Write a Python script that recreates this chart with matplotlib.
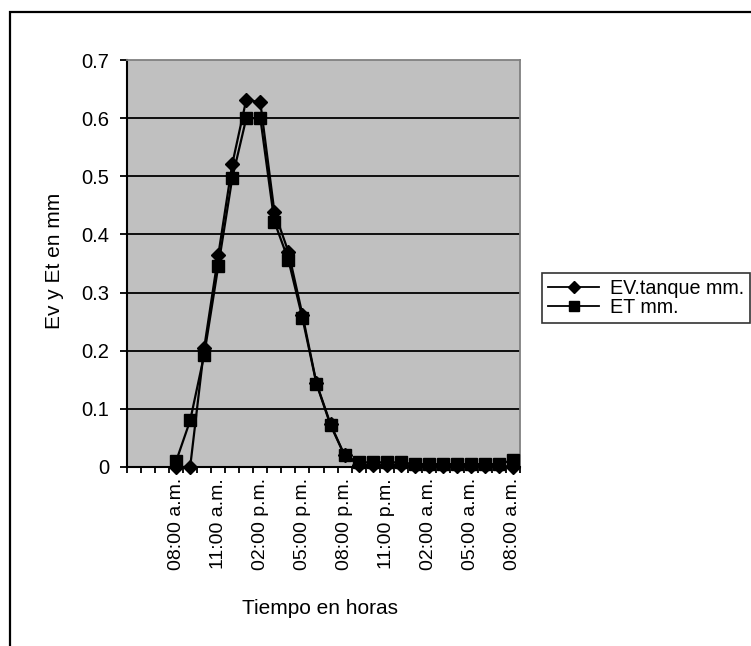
import matplotlib
matplotlib.use("Agg")
import matplotlib.pyplot as plt
from matplotlib.patches import Rectangle
from matplotlib.lines import Line2D

plt.rcParams['font.family'] = ['Liberation Sans', 'DejaVu Sans']

hours = ["08:00 a.m.", "09:00 a.m.", "10:00 a.m.", "11:00 a.m.", "12:00 p.m.",
         "01:00 p.m.", "02:00 p.m.", "03:00 p.m.", "04:00 p.m.", "05:00 p.m.",
         "06:00 p.m.", "07:00 p.m.", "08:00 p.m.", "09:00 p.m.", "10:00 p.m.",
         "11:00 p.m.", "12:00 a.m.", "01:00 a.m.", "02:00 a.m.", "03:00 a.m.",
         "04:00 a.m.", "05:00 a.m.", "06:00 a.m.", "07:00 a.m.", "08:00 a.m."]
ev_tanque = [0.0, 0.0, 0.205, 0.364, 0.521, 0.632, 0.627, 0.439, 0.370, 0.262,
             0.144, 0.074, 0.020, 0.004, 0.004, 0.004, 0.004, 0.002, 0.002, 0.002,
             0.002, 0.002, 0.002, 0.002, 0.0]
et = [0.010, 0.080, 0.193, 0.345, 0.497, 0.600, 0.600, 0.422, 0.356, 0.256,
      0.143, 0.072, 0.020, 0.008, 0.008, 0.008, 0.008, 0.005, 0.005, 0.005,
      0.005, 0.005, 0.005, 0.005, 0.012]
yticks = [0, 0.1, 0.2, 0.3, 0.4, 0.5, 0.6, 0.7]
ytick_labels = ["0", "0.1", "0.2", "0.3", "0.4", "0.5", "0.6", "0.7"]

FS_H = 14.5   # horizontal tick labels
FS_L = 14.2   # legend
FS_X = 14     # rotated category labels
FS_T = 15     # axis titles
W, H = 751, 646
fig = plt.figure(figsize=(W / 100, H / 100), dpi=100)

# outer chart frame
fig.patches.append(Rectangle((10 / W, -0.1), 1.2, 1 - 12 / H + 0.1,
                             transform=fig.transFigure, fill=False,
                             edgecolor='black', linewidth=1.6, zorder=0))

left, right, bottom, top = 127 / W, 520 / W, 1 - 467 / H, 1 - 60 / H
ax = fig.add_axes([left, bottom, right - left, top - bottom])
ax.set_facecolor('#C0C0C0')

x = list(range(len(hours)))
ax.set_xlim(-3.5, len(hours) - 0.5)
ax.set_ylim(0, 0.7)

for yv in yticks[1:-1]:
    ax.axhline(yv, color='black', linewidth=1.3, zorder=1)

ax.plot(x, ev_tanque, color='black', linewidth=1.6, marker='D', markersize=7,
        markerfacecolor='black', clip_on=False, zorder=3, label='EV.tanque mm.')
ax.plot(x, et, color='black', linewidth=1.6, marker='s', markersize=8,
        markerfacecolor='black', clip_on=False, zorder=4, label='ET mm.')

ax.set_yticks(yticks)
ax.set_yticklabels(ytick_labels, fontsize=FS_H)
ax.tick_params(axis='y', direction='out', length=5, width=1.3, pad=8)

bounds = [b - 0.5 for b in range(-3, len(hours) + 1)]
ax.set_xticks(bounds)
ax.set_xticklabels([])
ax.tick_params(axis='x', which='major', direction='out', length=4, width=1.3)
lab_pos = [i for i in x if i % 3 == 0]
ax.set_xticks(lab_pos, minor=True)
ax.set_xticklabels([hours[i] for i in lab_pos], minor=True, rotation=90,
                   fontsize=FS_X)
ax.tick_params(axis='x', which='minor', length=0, pad=8)

for s in ['left', 'bottom']:
    ax.spines[s].set_color('black')
    ax.spines[s].set_linewidth(1.5)
for s in ['top', 'right']:
    ax.spines[s].set_color('#808080')
    ax.spines[s].set_linewidth(1.3)

fig.text(55 / W, 1 - 261 / H, "Ev y Et en mm", rotation=90, ha='center',
         va='center', fontsize=FS_T)
fig.text(320 / W, 1 - 608 / H, "Tiempo en horas", ha='center', va='center',
         fontsize=FS_T)

handles = [Line2D([], [], color='black', linewidth=1.3, marker='D', markersize=6),
           Line2D([], [], color='black', linewidth=1.3, marker='s', markersize=7)]
leg = fig.legend(handles, ['EV.tanque mm.', 'ET mm.'], loc='upper left',
                 bbox_to_anchor=(542 / W, 1 - 273 / H), fontsize=FS_L,
                 frameon=True, fancybox=False, handlelength=2.6,
                 handletextpad=0.55, borderpad=0.3, labelspacing=0.0,
                 borderaxespad=0)
leg.get_frame().set_edgecolor('black')
leg.get_frame().set_linewidth(1.2)

fig.savefig("out.png", dpi=100)
